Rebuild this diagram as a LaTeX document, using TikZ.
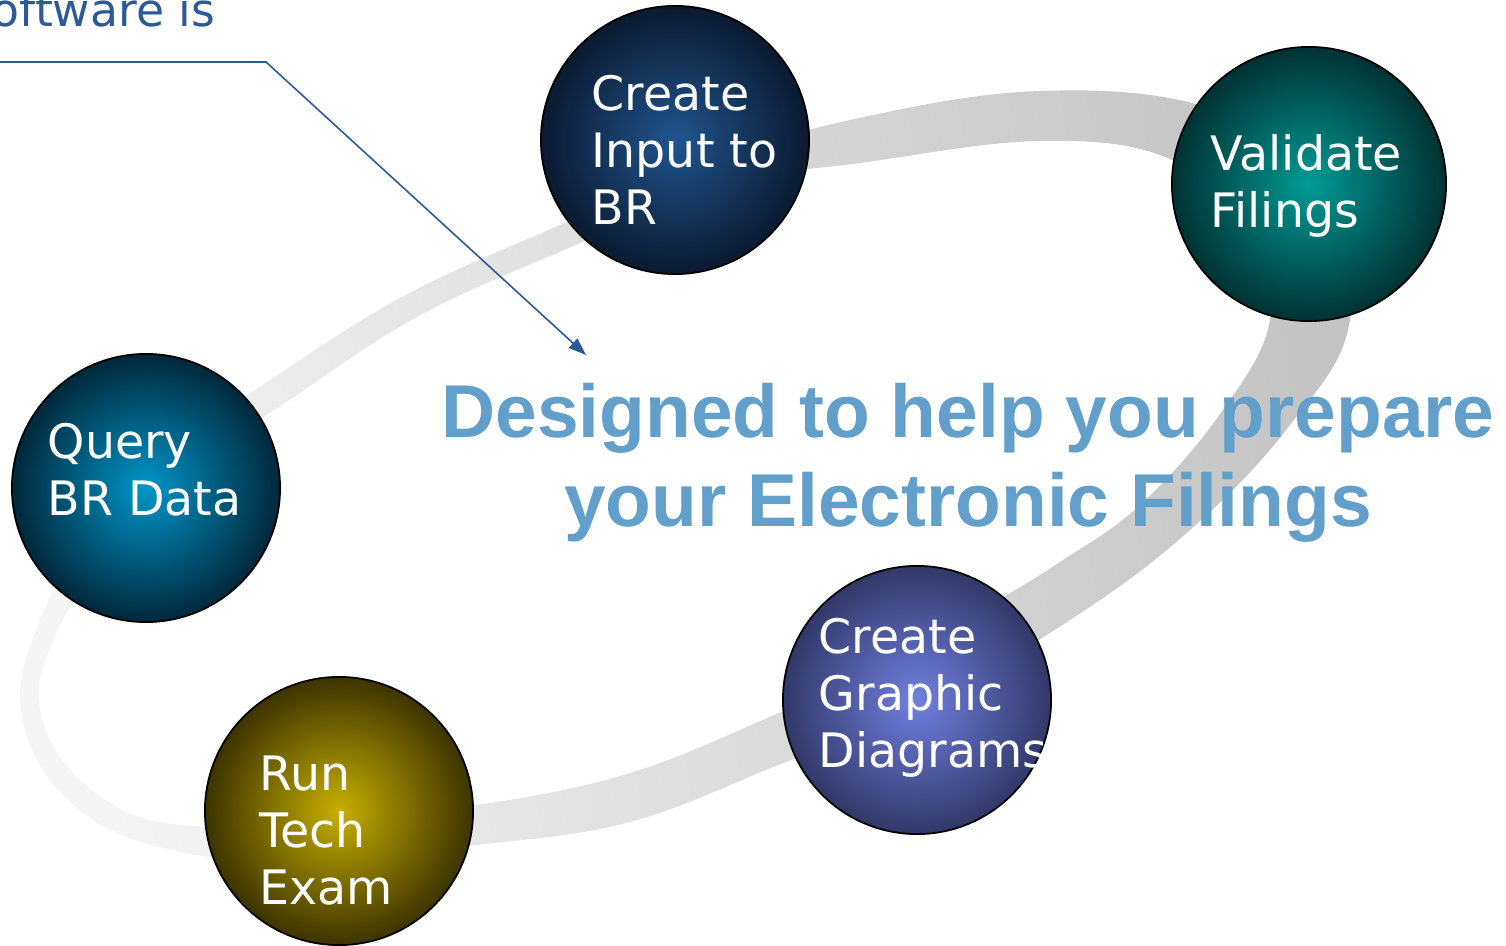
\documentclass[tikz,border=0pt]{standalone}
\usepackage{fontspec}
\setmainfont{DejaVu Sans}
\newfontfamily\headfont{Liberation Sans}
\usetikzlibrary{arrows.meta}

\definecolor{ringlight}{HTML}{F5F5F5}
\definecolor{ringdark}{HTML}{C4C4C4}
\definecolor{calloutblue}{HTML}{2B5A97}
\definecolor{headblue}{HTML}{639FCB}
\definecolor{inputin}{HTML}{20558F}
\definecolor{inputout}{HTML}{0A1A30}
\definecolor{validatein}{HTML}{009B96}
\definecolor{validateout}{HTML}{003232}
\definecolor{queryin}{HTML}{0096C8}
\definecolor{queryout}{HTML}{00283C}
\definecolor{examin}{HTML}{C8AF00}
\definecolor{examout}{HTML}{3C3400}
\definecolor{graphicin}{HTML}{7080E0}
\definecolor{graphicout}{HTML}{323869}

\begin{document}
\begin{tikzpicture}[
    x=0.01cm, y=-0.01cm,
    ring/.style={left color=ringlight, right color=ringdark, shading angle=100, even odd rule},
    ball/.style={circle, draw=black, line width=0.5pt, minimum size=2.68cm, inner sep=0pt},
    balltext/.style={anchor=north west, inner sep=0pt, align=left, text=white, font=\fontsize{13.5}{16.2}\selectfont},
    headtext/.style={anchor=north, inner sep=0pt, align=center, text=headblue, font=\headfont\bfseries\fontsize{21.3}{25.3}\selectfont},
    callout/.style={draw=calloutblue, line width=0.45pt, -{Triangle[length=5pt, width=3.6pt]}}
]
    \useasboundingbox (0,0) rectangle (1506,946);

    % Ring
    \shade[ring]
        plot[smooth cycle, tension=0.65] coordinates {(207,857) (90,818) (25,730) (38,625) (130,470) (250,393) (400,298) (560,225) (700,165) (850,120) (1040,91) (1210,108) (1330,180) (1350,320) (1290,425) (1190,530) (1070,620) (900,720) (786,762) (630,822) (470,846) (330,862)}
        plot[smooth cycle, tension=0.65] coordinates {(207,827) (110,803) (44,725) (58,630) (165,470) (263,417) (417,317) (587,240) (710,185) (860,163) (1040,141) (1170,159) (1250,230) (1270,320) (1220,414) (1140,505) (1060,562) (990,605) (880,670) (786,710) (630,773) (470,806) (330,818)};

    % Steps
    \node[ball, inner color=inputin, outer color=inputout] (input) at (675,140) {};
    \node[ball, inner color=validatein, outer color=validateout, minimum size=2.74cm] (validate) at (1309,184) {};
    \node[ball, inner color=queryin, outer color=queryout] (query) at (146,488) {};
    \node[ball, inner color=examin, outer color=examout] (exam) at (339,811) {};
    \node[ball, inner color=graphicin, outer color=graphicout] (graphic) at (917,700) {};

    \node[balltext] (inputtxt) at (591,75) {Create\\Input to\\BR};
    \node[balltext] (validatetxt) at (1210,134) {Validate\\Filings};
    \node[balltext] (querytxt) at (47,423) {Query\\BR Data};
    \node[balltext] (examtxt) at (259,755) {Run\\Tech\\Exam};
    \node[balltext] (graphictxt) at (818,618) {Create\\Graphic\\Diagrams};

    % Headline
    \node[headtext] (headline) at (968,383) {Designed to help you prepare\\your Electronic Filings};

    % Callout
    \node[anchor=base east, inner sep=0pt, text=calloutblue, font=\fontsize{13}{15.6}\selectfont] (sourcetxt) at (216,27) {Software is};
    \coordinate (calloutstart) at (-2,62);
    \coordinate (calloutbend) at (266,62);
    \coordinate (callouttip) at (586,355);
    \draw[callout] (calloutstart) -- (calloutbend) -- (callouttip);
\end{tikzpicture}
\end{document}
